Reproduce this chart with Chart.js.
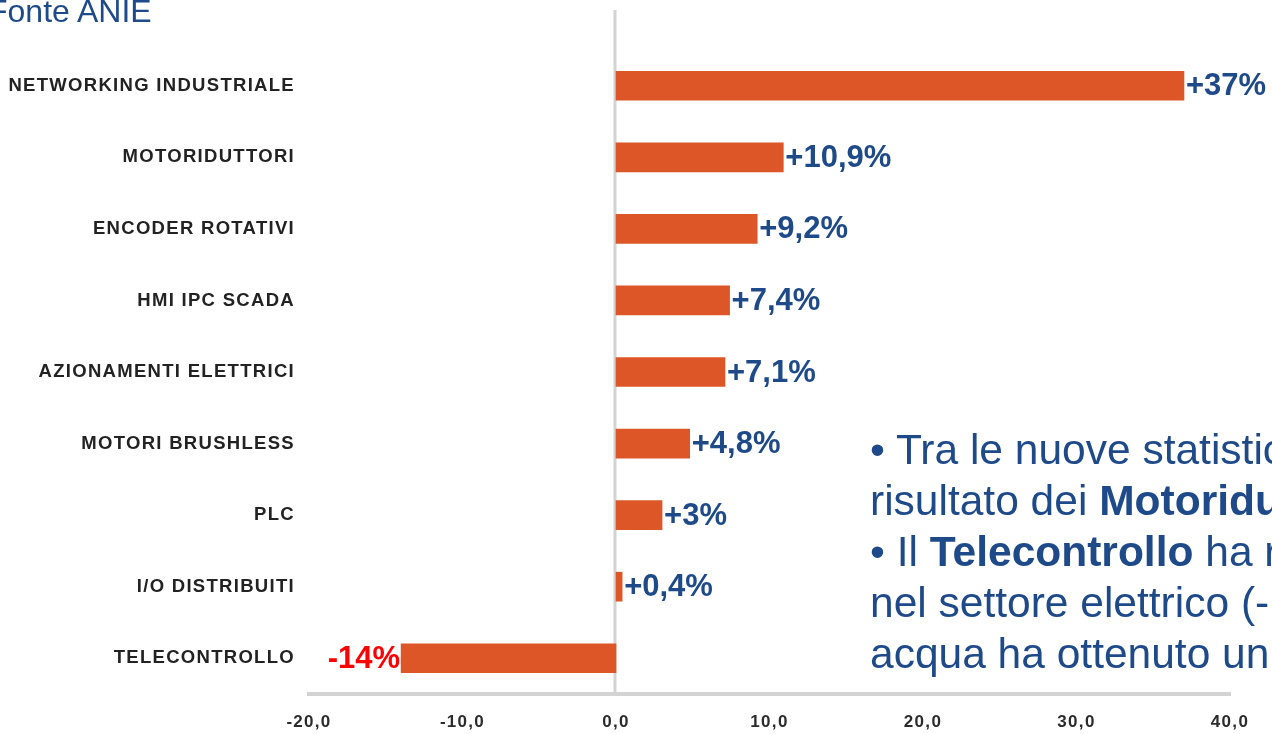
<!DOCTYPE html>
<html>
<head>
<meta charset="utf-8">
<script src="https://cdn.jsdelivr.net/npm/chart.js@4.4.0/dist/chart.umd.min.js"></script>
<style>
    html, body { margin: 0; padding: 0; width: 1272px; height: 734px; overflow: hidden; background: #fff; }
    #wrap { position: absolute; left: 0; top: 0; width: 1272px; height: 734px; }
    .source { position: absolute; left: -12px; top: -5px; font: 32px/32px "Liberation Sans", Arial, sans-serif; color: #1F4A8A; white-space: nowrap; }
    .note { position: absolute; left: 870px; top: 424px; font: 42.5px/51px "Liberation Sans", Arial, sans-serif; color: #1F4A8A; white-space: nowrap; }
</style>
</head>
<body>
<div id="wrap"><canvas id="growthChart" width="1272" height="734"></canvas></div>
<div class="source">Fonte ANIE</div>
<div class="note">• Tra le nuove statistiche<br>risultato dei <b>Motoriduttori</b><br>• Il <b>Telecontrollo</b> ha registrato<br>nel settore elettrico (-<br>acqua ha ottenuto un</div>
<script>
    // Data
    const categories = ['NETWORKING INDUSTRIALE', 'MOTORIDUTTORI', 'ENCODER ROTATIVI', 'HMI IPC SCADA',
        'AZIONAMENTI ELETTRICI', 'MOTORI BRUSHLESS', 'PLC', 'I/O DISTRIBUITI', 'TELECONTROLLO'];
    const growth = [37, 10.9, 9.2, 7.4, 7.1, 4.8, 3, 0.4, -14];
    const xTicks = [-20, -10, 0, 10, 20, 30, 40];

    const fontFamily = '"Liberation Sans", Arial, sans-serif';
    const blue = '#1F4A8A';

    function pctLabel(v) {
        return (v > 0 ? '+' : '') + String(v).replace('.', ',') + '%';
    }

    // Letter spacing for axis labels only
    const spacingPlugin = {
        id: 'spacing',
        beforeDraw(chart) { chart.ctx.letterSpacing = '1.3px'; },
        beforeDatasetsDraw(chart) { chart.ctx.letterSpacing = '0px'; }
    };

    // Vertical zero line
    const zeroLinePlugin = {
        id: 'zeroLine',
        beforeDatasetsDraw(chart) {
            const ctx = chart.ctx;
            const x = chart.scales.x.getPixelForValue(0);
            ctx.save();
            ctx.strokeStyle = '#D3D3D3';
            ctx.lineWidth = 3;
            ctx.beginPath();
            ctx.moveTo(x - 1, 10);
            ctx.lineTo(x - 1, chart.chartArea.bottom);
            ctx.stroke();
            ctx.restore();
        }
    };

    // Value labels at bar ends
    const valueLabelPlugin = {
        id: 'valueLabels',
        afterDatasetsDraw(chart) {
            const ctx = chart.ctx;
            const meta = chart.getDatasetMeta(0);
            ctx.save();
            ctx.font = 'bold 31px ' + fontFamily;
            ctx.textBaseline = 'middle';
            meta.data.forEach((bar, i) => {
                const v = growth[i];
                if (v >= 0) {
                    ctx.fillStyle = blue;
                    ctx.textAlign = 'left';
                    ctx.fillText(pctLabel(v), bar.x + 2, bar.y + 1);
                } else {
                    ctx.fillStyle = '#FF0000';
                    ctx.textAlign = 'right';
                    ctx.fillText(pctLabel(v), bar.x - 1, bar.y + 1);
                }
            });
            ctx.restore();
        }
    };

    const ctx = document.getElementById('growthChart').getContext('2d');
    new Chart(ctx, {
        type: 'bar',
        data: {
            labels: categories,
            datasets: [{
                data: growth,
                backgroundColor: '#DC5627',
                borderWidth: 0,
                barThickness: 29
            }]
        },
        options: {
            indexAxis: 'y',
            responsive: false,
            animation: false,
            layout: { padding: { top: 50, right: 42, left: 0, bottom: 0 } },
            plugins: {
                legend: { display: false },
                tooltip: { enabled: false }
            },
            scales: {
                x: {
                    min: -20,
                    max: 40,
                    afterBuildTicks(scale) {
                        scale.ticks = xTicks.map(v => ({ value: v }));
                    },
                    afterFit(scale) { scale.height = 40; },
                    grid: { display: false, drawTicks: false },
                    border: { display: true, color: '#D3D3D3', width: 4 },
                    ticks: {
                        padding: 18,
                        color: '#2B2B2B',
                        font: { family: fontFamily, size: 17, weight: 'bold' },
                        callback: function(value) {
                            return value.toFixed(1).replace('.', ',');
                        }
                    }
                },
                y: {
                    afterFit(scale) { scale.width = 309; },
                    grid: { display: false, drawTicks: false },
                    border: { display: false },
                    ticks: {
                        padding: 14,
                        color: '#222',
                        font: { family: fontFamily, size: 18.5, weight: 'bold' }
                    }
                }
            }
        },
        plugins: [spacingPlugin, zeroLinePlugin, valueLabelPlugin]
    });
</script>
</body>
</html>
